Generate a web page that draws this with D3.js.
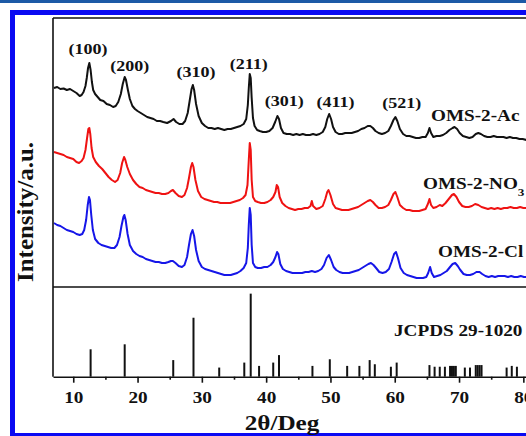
<!DOCTYPE html>
<html><head><meta charset="utf-8">
<script src="https://cdn.jsdelivr.net/npm/d3@7"></script>
<style>html,body{margin:0;padding:0;background:#fff;overflow:hidden}svg{display:block}text{font-family:"Liberation Serif","Times New Roman",serif;font-weight:bold;fill:#111}</style>
</head><body>
<script>
(function(){
// ---------- DATA ----------
const xTicks = [10, 20, 30, 40, 50, 60, 70, 80];
const xMinorTicks = [15, 25, 35, 45, 55, 65, 75];
const seriesNames = ["OMS-2-Ac", "OMS-2-NO", "OMS-2-Cl"];
const hklLabels = ["(100)", "(200)", "(310)", "(211)", "(301)", "(411)", "(521)"];
const refLabel = "JCPDS 29-1020";

// [2theta, intensity (a.u., stacked)]
const acCurve = [[7.0,199],[7.5,200],[8.0,198],[8.5,198.5],[9.0,197],[9.5,198],[10.0,196],[10.5,194],[11.0,191],[11.3,192],[11.6,195],[11.9,201],[12.1,209],[12.3,219],[12.5,224],[12.7,217],[12.9,205],[13.1,197],[13.4,193],[13.8,190],[14.2,187],[14.7,186],[15.2,183],[15.7,182],[16.2,180],[16.6,181],[17.0,185],[17.4,193],[17.7,203],[18.0,210],[18.2,207],[18.5,197],[18.8,188],[19.2,181],[19.6,178],[20.0,176],[20.5,174],[21.0,172],[21.5,170],[22.0,169],[22.5,168],[23.0,166],[23.5,166],[24.0,165],[24.6,164],[25.2,166],[25.6,168],[26.0,165],[26.5,163],[27.0,163],[27.4,166],[27.8,174],[28.1,186],[28.4,198],[28.6,202],[28.8,197],[29.1,183],[29.5,171],[30.0,164],[30.5,161],[31.0,159],[31.5,159],[32.0,158],[32.5,159],[33.0,158],[33.5,157],[34.0,158],[34.5,158],[35.0,159],[35.5,160],[36.0,161],[36.5,163],[36.9,168],[37.15,182],[37.3,199],[37.45,213],[37.6,209],[37.75,189],[37.95,169],[38.2,161],[38.6,157],[39.0,156],[39.5,155],[40.0,155],[40.5,156],[41.0,159],[41.4,165],[41.75,171],[42.0,168],[42.3,159],[42.7,154],[43.2,153],[43.7,153],[44.2,152],[44.7,153],[45.2,152],[45.7,153],[46.2,152],[46.8,152],[47.3,153],[47.8,152],[48.3,153],[48.8,155],[49.2,160],[49.5,168],[49.8,173],[50.1,168],[50.4,160],[50.8,155],[51.3,153],[51.8,153],[52.3,154],[52.8,154],[53.3,154],[53.8,155],[54.3,156],[54.8,158],[55.3,159],[55.8,161],[56.2,161],[56.6,159],[57.0,156],[57.5,154],[58.0,153],[58.5,154],[59.0,156],[59.4,161],[59.8,167],[60.1,170],[60.4,166],[60.8,158],[61.3,153],[61.8,151],[62.3,151],[62.8,150],[63.3,149],[63.8,149],[64.3,150],[64.8,150],[65.15,154],[65.4,159],[65.65,154],[66.0,150],[66.5,151],[67.0,151],[67.5,152],[68.0,154],[68.5,157],[69.0,159],[69.3,160],[69.7,158],[70.1,154],[70.6,151],[71.1,150],[71.6,149],[72.1,150],[72.6,153],[73.0,154],[73.4,153],[73.9,151],[74.4,150],[74.9,150],[75.4,151],[75.9,150],[76.4,150],[76.9,150],[77.4,149],[77.9,150],[78.4,149],[78.9,149],[79.4,148],[79.9,148],[80.5,147],[81.0,147],[82.0,147]];

const no3Curve = [[7.0,135],[7.5,134],[8.0,133],[8.5,132],[9.0,130],[9.5,129],[10.0,128],[10.5,125],[10.9,124],[11.3,126],[11.6,129],[11.9,137],[12.15,149],[12.35,158],[12.5,159],[12.65,153],[12.85,139],[13.1,130],[13.5,125],[14.0,121],[14.5,118],[15.0,114],[15.5,110],[16.0,107],[16.5,105],[16.9,107],[17.3,114],[17.6,124],[17.9,130],[18.1,127],[18.4,120],[18.8,113],[19.3,107],[19.8,103],[20.3,100],[20.8,99],[21.3,97],[21.8,96],[22.3,95],[22.8,94],[23.3,94],[23.8,93],[24.3,93],[24.8,94],[25.2,96],[25.5,97],[25.9,94],[26.4,91],[26.9,90],[27.3,92],[27.7,99],[28.0,109],[28.3,120],[28.5,124],[28.7,120],[29.0,107],[29.4,96],[29.9,90],[30.4,88],[30.9,87],[31.4,86],[31.9,85],[32.4,85],[32.9,84],[33.4,84],[33.9,84],[34.4,84],[34.9,85],[35.4,86],[35.9,87],[36.4,89],[36.8,92],[37.1,102],[37.3,127],[37.45,144],[37.6,137],[37.75,107],[37.95,90],[38.3,86],[38.7,85],[39.2,84],[39.7,84],[40.2,85],[40.7,87],[41.1,90],[41.45,95],[41.65,102],[41.85,100],[42.1,90],[42.5,84],[43.0,81],[43.5,79],[44.0,78],[44.5,77],[45.0,78],[45.5,78],[46.0,79],[46.5,79],[46.9,81],[47.1,86],[47.3,81],[47.8,78],[48.3,79],[48.8,81],[49.2,88],[49.5,95],[49.7,97],[50.0,92],[50.4,83],[50.8,79],[51.3,78],[51.8,77],[52.3,77],[52.8,77],[53.3,78],[53.8,79],[54.3,80],[54.8,82],[55.3,84],[55.8,86],[56.2,87],[56.6,85],[57.0,82],[57.5,79],[58.0,79],[58.5,80],[59.0,82],[59.4,87],[59.8,93],[60.1,95],[60.4,90],[60.8,82],[61.3,79],[61.8,77],[62.3,77],[62.8,76],[63.3,76],[63.8,76],[64.3,77],[64.8,78],[65.15,83],[65.4,88],[65.65,82],[66.0,79],[66.5,80],[67.0,82],[67.4,81],[67.9,84],[68.4,88],[68.9,92],[69.2,93],[69.6,90],[70.0,85],[70.5,81],[71.0,80],[71.5,80],[72.0,81],[72.5,83],[73.0,82],[73.5,80],[74.0,79],[74.5,78],[75.0,79],[75.5,78],[76.0,79],[76.5,78],[77.0,79],[77.5,79],[78.0,80],[78.5,79],[79.0,79],[79.5,80],[80.0,79],[81.0,79],[82.0,79]];

const clCurve = [[7.0,64],[7.5,62],[8.0,61],[8.5,59],[9.0,57],[9.5,56],[10.0,55],[10.5,53],[11.0,52],[11.4,53],[11.7,57],[12.0,67],[12.25,82],[12.45,90],[12.6,87],[12.8,72],[13.05,57],[13.4,48],[13.9,44],[14.4,42],[14.9,41],[15.4,40],[15.9,39],[16.4,39],[16.8,42],[17.2,50],[17.5,61],[17.8,70],[17.95,72],[18.15,67],[18.45,53],[18.8,42],[19.3,36],[19.8,33],[20.3,31],[20.8,30],[21.3,28],[21.8,27],[22.3,26],[22.8,25],[23.3,25],[23.8,24],[24.3,24],[24.8,25],[25.2,26],[25.5,26],[25.9,24],[26.4,21],[26.9,20],[27.3,22],[27.7,30],[28.0,42],[28.3,53],[28.55,57],[28.8,51],[29.1,37],[29.5,26],[30.0,20],[30.5,18],[31.0,17],[31.5,16],[32.0,15],[32.5,14],[33.0,13],[33.5,12],[34.0,12],[34.5,12],[35.0,13],[35.5,14],[36.0,16],[36.5,19],[36.9,24],[37.15,39],[37.3,62],[37.45,79],[37.6,72],[37.75,42],[37.95,24],[38.3,20],[38.7,19],[39.2,19],[39.7,20],[40.2,20],[40.7,22],[41.1,25],[41.45,30],[41.7,35],[41.9,33],[42.2,23],[42.6,18],[43.1,16],[43.6,15],[44.1,14],[44.6,14],[45.1,14],[45.6,14],[46.1,15],[46.6,15],[47.1,16],[47.6,15],[48.1,16],[48.6,18],[49.0,22],[49.4,29],[49.75,32],[50.1,27],[50.5,20],[50.9,17],[51.4,15],[51.9,14],[52.4,14],[52.9,14],[53.4,15],[53.9,16],[54.4,17],[54.9,19],[55.4,21],[55.9,23],[56.3,24],[56.7,22],[57.1,19],[57.6,15],[58.1,14],[58.6,15],[59.1,18],[59.5,25],[59.9,33],[60.2,35],[60.5,29],[60.9,19],[61.4,14],[61.9,12],[62.4,11],[62.9,10],[63.4,9],[63.9,9],[64.4,9],[64.9,10],[65.2,14],[65.5,20],[65.75,14],[66.1,10],[66.6,11],[67.1,12],[67.6,14],[68.1,16],[68.6,20],[69.0,23],[69.4,24],[69.8,21],[70.2,17],[70.7,13],[71.2,12],[71.7,12],[72.2,13],[72.7,15],[73.2,15],[73.6,13],[74.1,11],[74.6,10],[75.1,11],[75.6,10],[76.1,11],[76.6,11],[77.1,11],[77.6,10],[78.1,11],[78.6,10],[79.1,10],[79.6,11],[80.1,10],[81.0,10],[82.0,10]];

// JCPDS 29-1020 reference pattern
const stickPos = [12.7, 18.0, 25.55, 28.7, 32.7, 36.6, 37.6, 38.9, 41.1, 42.0, 47.2, 49.9, 52.6, 54.5, 56.1, 56.9, 59.4, 60.3, 65.4, 66.2, 67.0, 67.8, 68.6, 68.9, 69.2, 69.5, 70.9, 71.7, 72.6, 72.9, 73.2, 73.5, 77.4, 78.2, 79.0];
const stickInt = [33, 39, 20, 71, 11, 17, 100, 13, 17, 26, 13, 21, 13, 13, 20, 15, 12, 17, 14, 12, 12, 12, 13, 13, 13, 13, 11, 11, 14, 14, 14, 14, 11, 13, 12];

// ---------- LAYOUT ----------
const W = 526, H = 436;
const SX = 1.2;
const pL = 53, pT = 18, pSep = 287, pB = 376.7;
const svg = d3.select("body").append("svg").attr("width", W).attr("height", H);
svg.append("rect").attr("width", W).attr("height", H).attr("fill", "#fff");
svg.append("rect").attr("x", 0).attr("y", 0).attr("width", W).attr("height", 3).attr("fill", "#1d5aa6");
svg.append("rect").attr("x", 12.5).attr("y", 12.5).attr("width", 600).attr("height", 423)
  .attr("fill", "none").attr("stroke", "#0a0af2").attr("stroke-width", 5);

const x = d3.scaleLinear().domain([6.85, 82]).range([pL, 536.2]);
const yTop = d3.scaleLinear().domain([0, 269]).range([pSep, pT]);
const yBot = d3.scaleLinear().domain([0, 108]).range([pB, pSep]);

svg.append("defs").append("clipPath").attr("id", "clip")
  .append("rect").attr("x", pL).attr("y", pT).attr("width", 500).attr("height", pSep - pT);

const line = d3.line().x(d => x(d[0])).y(d => yTop(d[1]));
const curves = [[acCurve, "#111"], [no3Curve, "#ef1212"], [clCurve, "#1616e8"]];
const g = svg.append("g").attr("clip-path", "url(#clip)");
curves.forEach(([data, c]) => {
  g.append("path").datum(data).attr("d", line).attr("fill", "none")
    .attr("stroke", c).attr("stroke-width", 2).attr("stroke-linejoin", "round");
});

// sticks
svg.append("g").selectAll("line").data(stickPos).join("line")
  .attr("x1", d => x(d)).attr("x2", d => x(d))
  .attr("y1", yBot(0)).attr("y2", (d, i) => yBot(stickInt[i]))
  .attr("stroke", "#111").attr("stroke-width", 2);

// frame
const fr = svg.append("g").attr("stroke", "#111").attr("stroke-width", 1.6).attr("fill", "none");
fr.append("line").attr("x1", pL).attr("x2", pL).attr("y1", pT).attr("y2", pB);
fr.append("line").attr("x1", pL).attr("x2", W + 5).attr("y1", pT).attr("y2", pT);
fr.append("line").attr("x1", pL).attr("x2", W + 5).attr("y1", pSep).attr("y2", pSep);

// x axis
const ax = svg.append("g").attr("transform", `translate(0,${pB})`)
  .call(d3.axisBottom(x).tickValues(xTicks).tickSize(6).tickSizeOuter(0).tickFormat(d3.format("d")));
ax.select(".domain").attr("stroke", "#111").attr("stroke-width", 1.6);
ax.selectAll(".tick line").attr("stroke", "#111").attr("stroke-width", 1.6);
ax.selectAll(".tick text").attr("y", 26.3).attr("dy", 0).attr("font-size", 16)
  .attr("transform", `scale(${SX},1)`).style("fill", "#111")
  .attr("font-family", "Liberation Serif").attr("font-weight", "bold");
const axm = svg.append("g").attr("transform", `translate(0,${pB})`)
  .call(d3.axisBottom(x).tickValues(xMinorTicks).tickSize(3).tickSizeOuter(0).tickFormat(""));
axm.select(".domain").remove();
axm.selectAll(".tick line").attr("stroke", "#111").attr("stroke-width", 1.6);

// titles
svg.append("text").attr("transform", `translate(282,430) scale(${SX},1)`)
  .attr("text-anchor", "middle").attr("font-size", 21).text("2θ/Deg");
svg.append("text").attr("transform", `translate(33,212) rotate(-90) scale(1.085,1)`)
  .attr("text-anchor", "middle").attr("font-size", 23).text("Intensity/a.u.");

// hkl labels (2θ, a.u.)
const hklAt = [[12.3, 233], [18.8, 215.7], [29.1, 209.7], [37.3, 218], [42.8, 181.4], [50.8, 180.4], [61.1, 178.7]];
hklLabels.forEach((t, i) => {
  svg.append("text").attr("transform", `translate(${x(hklAt[i][0])},${yTop(hklAt[i][1])}) scale(${SX},1)`)
    .attr("text-anchor", "middle").attr("font-size", 15).text(t);
});

// series labels
const nameAt = [[431, 121], [423, 189], [438, 257]];
seriesNames.forEach((t, i) => {
  const tx = svg.append("text").attr("transform", `translate(${nameAt[i][0]},${nameAt[i][1]}) scale(${SX},1)`)
    .attr("font-size", 16).text(t);
  if (i === 1) tx.append("tspan").attr("font-size", 11).attr("dy", 7).text("3");
});
svg.append("text").attr("transform", `translate(394,336) scale(${SX},1)`).attr("font-size", 16).text(refLabel);
})();
</script>
</body></html>
